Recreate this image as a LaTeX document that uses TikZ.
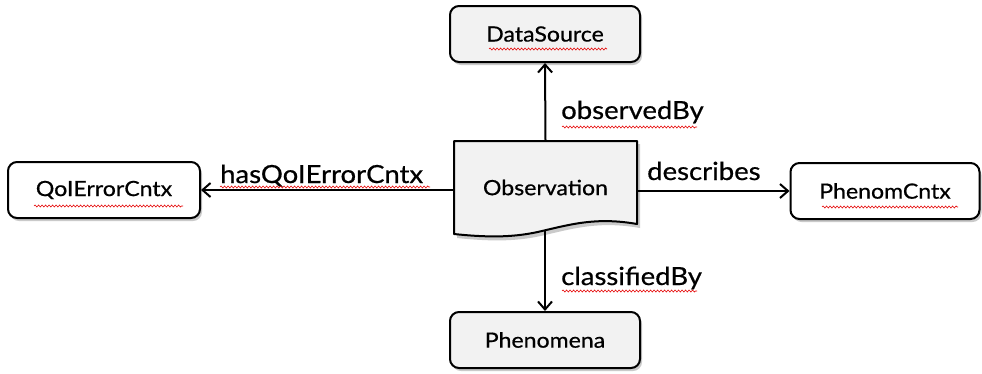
\documentclass[tikz,border=0pt]{standalone}
\usepackage{fontspec}
\setmainfont{Lato}[FakeStretch=1.1,FakeBold=0.6]
\usetikzlibrary{arrows.meta,shadows,decorations.pathmorphing}
\begin{document}
\begin{tikzpicture}[x=1pt,y=-1pt,
  box/.style={draw=black,line width=2pt,rounded corners=9pt,minimum width=190pt,minimum height=56pt,
    font=\fontsize{21}{24}\selectfont,drop shadow={shadow xshift=2pt,shadow yshift=-3pt,opacity=0.35,fill=black!60}},
  greybox/.style={box,fill=black!5},
  whitebox/.style={box,fill=white},
  conn/.style={line width=2pt,-{Straight Barb[length=8pt,width=14pt,line width=2pt]}},
  lbl/.style={font=\fontsize{25}{28}\selectfont,inner sep=0pt,anchor=base west},
  squig/.style={red!90!black,line width=0.6pt,decorate,decoration={snake,amplitude=1pt,segment length=3.5pt}}
]
\useasboundingbox (0,0) rectangle (982,373);

\node[greybox] (ds) at (545,34) {DataSource};
\node[greybox] (ph) at (545,340) {Phenomena};
\node[whitebox,minimum width=192pt] (qoi) at (104,190) {QoIErrorCntx};
\node[whitebox,minimum width=189pt] (pc) at (885,191) {PhenomCntx};

% Observation document shape
\fill[black!60,opacity=0.35] (457,144) -- (640,144) -- (640,228)
  .. controls (600,221) and (575,228) .. (545,235)
  .. controls (520,241) and (495,242) .. (457,238) -- cycle;
\draw[line width=2pt,fill=black!5,line join=round] (454,141) -- (637,141) -- (637,224)
  .. controls (597,217) and (572,224) .. (542,231)
  .. controls (517,237) and (492,238) .. (454,234) -- cycle;
\node[inner sep=0pt,minimum width=183pt,minimum height=93pt,font=\fontsize{21}{24}\selectfont] (obs) at (545.5,187.5) {Observation};
\coordinate (obsb) at (545,230);

\draw[conn] (obs.north) -- (ds.south);
\draw[conn] (obsb) -- (ph.north);
\draw[conn] (obs.west |- qoi.east) -- (qoi.east);
\draw[conn] (obs.east |- pc.west) -- (pc.west);

\node[lbl] (l1) at (561,119) {observedBy};
\node[lbl] (l2) at (561,285) {classifiedBy};
\node[lbl] (l3) at (220,183) {hasQoIErrorCntx};
\node[lbl] (l4) at (647,180) {describes};

% spell-check underlines
\draw[squig] (489,49) -- (607,49);
\draw[squig] (34,206) -- (183,206);
\draw[squig] (822,207) -- (958,207);
\draw[squig] (220,187) -- (430,187);
\draw[squig] (562,127) -- (697,127);
\draw[squig] (562,291) -- (697,291);
\end{tikzpicture}
\end{document}
